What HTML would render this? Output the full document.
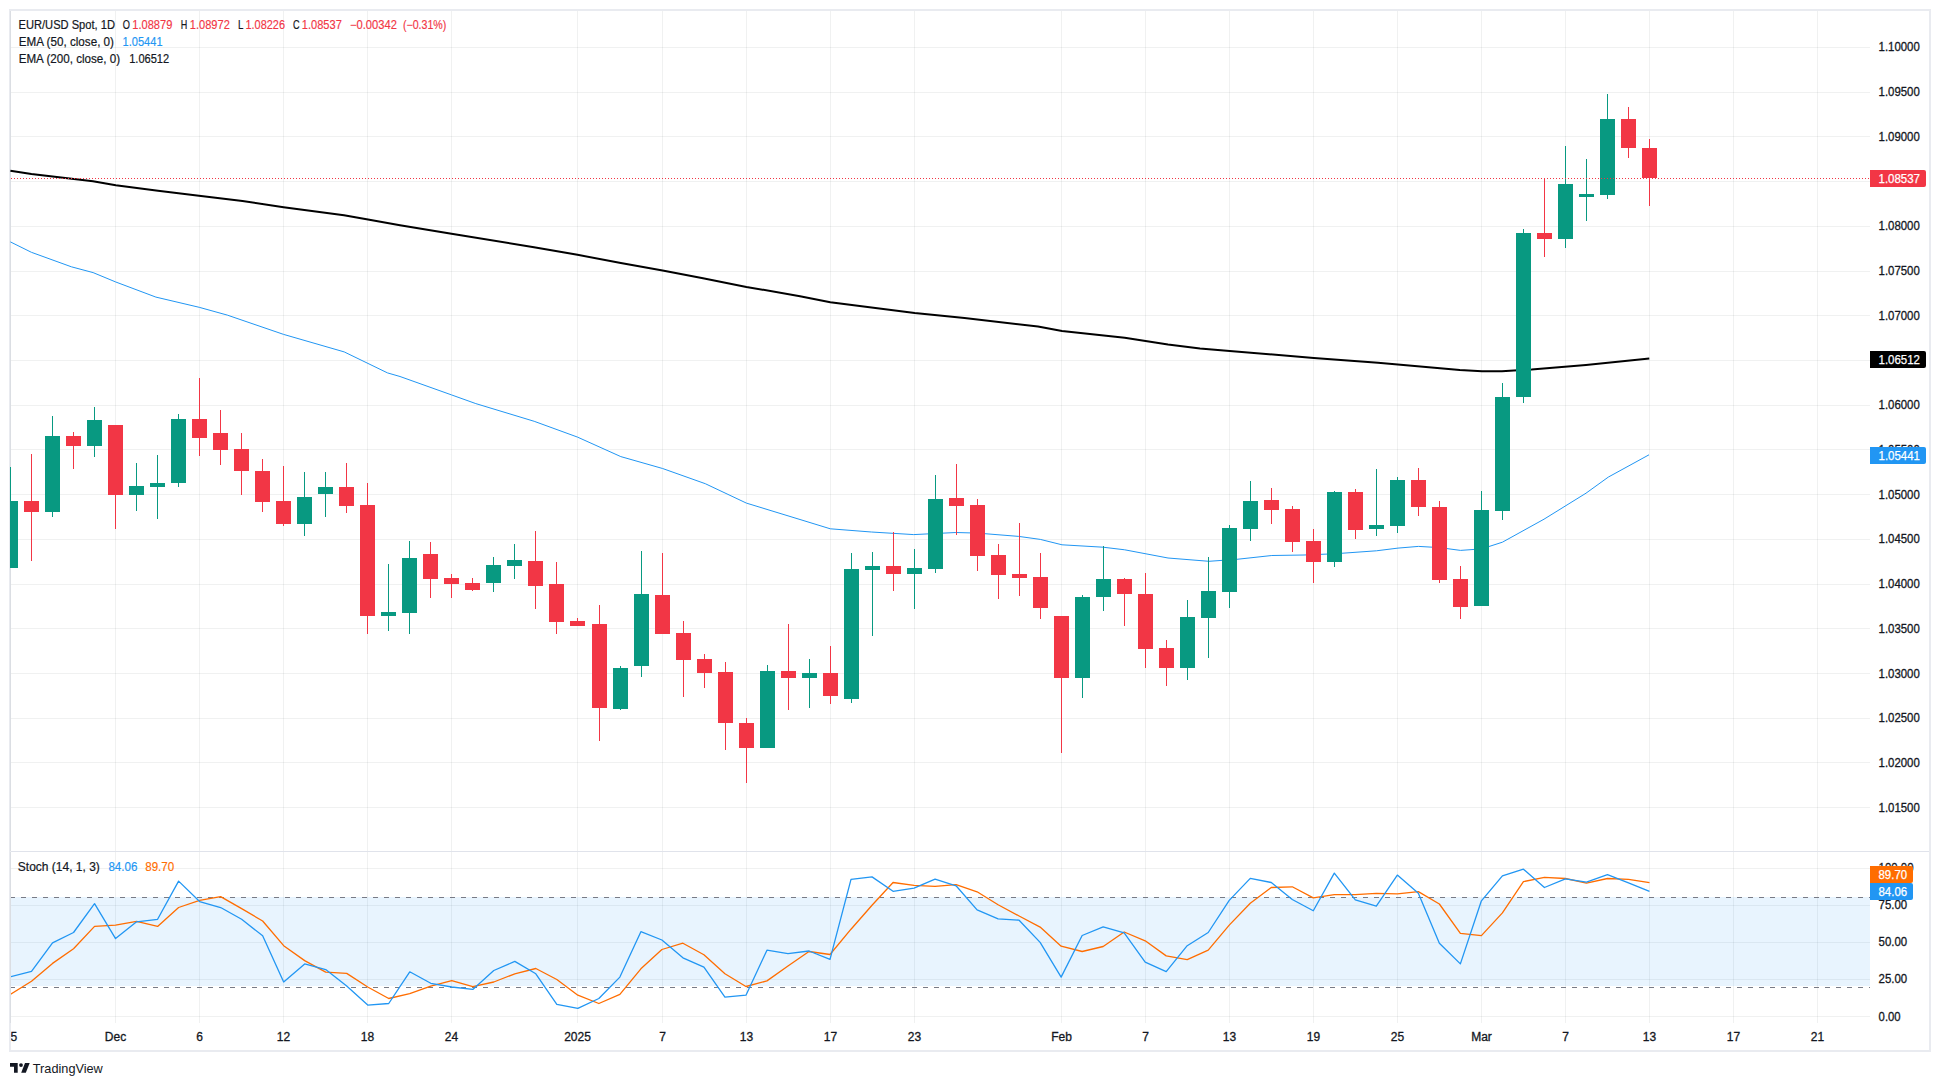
<!DOCTYPE html>
<html><head><meta charset="utf-8"><style>
html,body{margin:0;padding:0;background:#fff;width:1940px;height:1086px;overflow:hidden}
svg{display:block}
text{font-family:"Liberation Sans",sans-serif}
.b{stroke:#131722;stroke-width:0.3px}
.w{stroke:#ffffff;stroke-width:0.25px}
.l{stroke:#131722;stroke-width:0.2px}
</style></head><body>
<svg width="1940" height="1086" viewBox="0 0 1940 1086">
<rect x="0" y="0" width="1940" height="1086" fill="#ffffff"/>

<defs><clipPath id="cm"><rect x="10" y="11" width="1860" height="840"/></clipPath><clipPath id="cs"><rect x="11" y="852" width="1859" height="170"/></clipPath></defs>
<rect x="9" y="9" width="1922" height="2" fill="#e9ebf0"/><rect x="9" y="1050" width="1922" height="2" fill="#e9ebf0"/><rect x="9" y="9" width="2" height="1043" fill="#e9ebf0"/><rect x="1929" y="9" width="2" height="1043" fill="#e9ebf0"/>
<rect x="11" y="807" width="1859" height="1" fill="rgba(60,80,80,0.08)"/>
<rect x="11" y="762" width="1859" height="1" fill="rgba(60,80,80,0.08)"/>
<rect x="11" y="718" width="1859" height="1" fill="rgba(60,80,80,0.08)"/>
<rect x="11" y="673" width="1859" height="1" fill="rgba(60,80,80,0.08)"/>
<rect x="11" y="628" width="1859" height="1" fill="rgba(60,80,80,0.08)"/>
<rect x="11" y="584" width="1859" height="1" fill="rgba(60,80,80,0.08)"/>
<rect x="11" y="539" width="1859" height="1" fill="rgba(60,80,80,0.08)"/>
<rect x="11" y="494" width="1859" height="1" fill="rgba(60,80,80,0.08)"/>
<rect x="11" y="449" width="1859" height="1" fill="rgba(60,80,80,0.08)"/>
<rect x="11" y="405" width="1859" height="1" fill="rgba(60,80,80,0.08)"/>
<rect x="11" y="360" width="1859" height="1" fill="rgba(60,80,80,0.08)"/>
<rect x="11" y="315" width="1859" height="1" fill="rgba(60,80,80,0.08)"/>
<rect x="11" y="271" width="1859" height="1" fill="rgba(60,80,80,0.08)"/>
<rect x="11" y="226" width="1859" height="1" fill="rgba(60,80,80,0.08)"/>
<rect x="11" y="181" width="1859" height="1" fill="rgba(60,80,80,0.08)"/>
<rect x="11" y="136" width="1859" height="1" fill="rgba(60,80,80,0.08)"/>
<rect x="11" y="92" width="1859" height="1" fill="rgba(60,80,80,0.08)"/>
<rect x="11" y="47" width="1859" height="1" fill="rgba(60,80,80,0.08)"/>
<rect x="10" y="11" width="1" height="840" fill="rgba(60,80,80,0.08)"/>
<rect x="10" y="852" width="1" height="171" fill="rgba(60,80,80,0.08)"/>
<rect x="115" y="11" width="1" height="840" fill="rgba(60,80,80,0.08)"/>
<rect x="115" y="852" width="1" height="171" fill="rgba(60,80,80,0.08)"/>
<rect x="199" y="11" width="1" height="840" fill="rgba(60,80,80,0.08)"/>
<rect x="199" y="852" width="1" height="171" fill="rgba(60,80,80,0.08)"/>
<rect x="283" y="11" width="1" height="840" fill="rgba(60,80,80,0.08)"/>
<rect x="283" y="852" width="1" height="171" fill="rgba(60,80,80,0.08)"/>
<rect x="367" y="11" width="1" height="840" fill="rgba(60,80,80,0.08)"/>
<rect x="367" y="852" width="1" height="171" fill="rgba(60,80,80,0.08)"/>
<rect x="451" y="11" width="1" height="840" fill="rgba(60,80,80,0.08)"/>
<rect x="451" y="852" width="1" height="171" fill="rgba(60,80,80,0.08)"/>
<rect x="577" y="11" width="1" height="840" fill="rgba(60,80,80,0.08)"/>
<rect x="577" y="852" width="1" height="171" fill="rgba(60,80,80,0.08)"/>
<rect x="662" y="11" width="1" height="840" fill="rgba(60,80,80,0.08)"/>
<rect x="662" y="852" width="1" height="171" fill="rgba(60,80,80,0.08)"/>
<rect x="746" y="11" width="1" height="840" fill="rgba(60,80,80,0.08)"/>
<rect x="746" y="852" width="1" height="171" fill="rgba(60,80,80,0.08)"/>
<rect x="830" y="11" width="1" height="840" fill="rgba(60,80,80,0.08)"/>
<rect x="830" y="852" width="1" height="171" fill="rgba(60,80,80,0.08)"/>
<rect x="914" y="11" width="1" height="840" fill="rgba(60,80,80,0.08)"/>
<rect x="914" y="852" width="1" height="171" fill="rgba(60,80,80,0.08)"/>
<rect x="1061" y="11" width="1" height="840" fill="rgba(60,80,80,0.08)"/>
<rect x="1061" y="852" width="1" height="171" fill="rgba(60,80,80,0.08)"/>
<rect x="1145" y="11" width="1" height="840" fill="rgba(60,80,80,0.08)"/>
<rect x="1145" y="852" width="1" height="171" fill="rgba(60,80,80,0.08)"/>
<rect x="1229" y="11" width="1" height="840" fill="rgba(60,80,80,0.08)"/>
<rect x="1229" y="852" width="1" height="171" fill="rgba(60,80,80,0.08)"/>
<rect x="1313" y="11" width="1" height="840" fill="rgba(60,80,80,0.08)"/>
<rect x="1313" y="852" width="1" height="171" fill="rgba(60,80,80,0.08)"/>
<rect x="1397" y="11" width="1" height="840" fill="rgba(60,80,80,0.08)"/>
<rect x="1397" y="852" width="1" height="171" fill="rgba(60,80,80,0.08)"/>
<rect x="1481" y="11" width="1" height="840" fill="rgba(60,80,80,0.08)"/>
<rect x="1481" y="852" width="1" height="171" fill="rgba(60,80,80,0.08)"/>
<rect x="1565" y="11" width="1" height="840" fill="rgba(60,80,80,0.08)"/>
<rect x="1565" y="852" width="1" height="171" fill="rgba(60,80,80,0.08)"/>
<rect x="1649" y="11" width="1" height="840" fill="rgba(60,80,80,0.08)"/>
<rect x="1649" y="852" width="1" height="171" fill="rgba(60,80,80,0.08)"/>
<rect x="1733" y="11" width="1" height="840" fill="rgba(60,80,80,0.08)"/>
<rect x="1733" y="852" width="1" height="171" fill="rgba(60,80,80,0.08)"/>
<rect x="1817" y="11" width="1" height="840" fill="rgba(60,80,80,0.08)"/>
<rect x="1817" y="852" width="1" height="171" fill="rgba(60,80,80,0.08)"/>
<rect x="11" y="868" width="1859" height="1" fill="rgba(60,80,80,0.08)"/>
<rect x="11" y="905" width="1859" height="1" fill="rgba(60,80,80,0.08)"/>
<rect x="11" y="942" width="1859" height="1" fill="rgba(60,80,80,0.08)"/>
<rect x="11" y="979" width="1859" height="1" fill="rgba(60,80,80,0.08)"/>
<rect x="11" y="1016" width="1859" height="1" fill="rgba(60,80,80,0.08)"/>
<rect x="11" y="897" width="1859" height="89" fill="rgba(33,150,243,0.1)"/>
<g clip-path="url(#cm)">
<polyline fill="none" stroke="#2196F3" stroke-width="1" stroke-linejoin="round" points="10.4,241.9 31.4,252.3 71.4,266.8 93.1,272.6 115.8,282 155.9,297.1 199.2,307.3 227.3,315.1 283.6,334.4 344.2,351.9 387.5,372.9 400,376.5 451.5,394.9 475.8,403.6 534.2,421.3 577.5,437.1 620.8,456.6 662.6,468.5 705.3,483.7 746.4,503.1 800,519.5 830.3,528.8 871.4,532 913.7,534.6 955.9,532.5 977.5,533.1 1018.7,536.4 1040.3,539.4 1062,544.8 1103,547.2 1124.7,549.8 1168,558 1209,561.3 1237,559.3 1271.8,555.5 1304,555 1334.3,553.8 1376.4,550.8 1398,548.1 1418.5,546.4 1439.5,547.6 1460.5,550.4 1481.6,548.9 1502.4,542.2 1544,519.2 1586,493.2 1608.3,477.1 1649,454.8"/>
<polyline fill="none" stroke="#000000" stroke-width="2" stroke-linejoin="round" points="10.4,170.8 31.4,174.1 93,181.2 115.8,185.3 158,190.7 199,195.7 242.5,201.1 283.6,207.2 344,215.2 368,219.5 400,225.2 451.5,233.8 534,247.2 577.5,254.8 620.8,263 662.6,270.6 703,278.2 746.4,286.9 800,296.2 830.3,302.3 914.7,312.9 964.5,317.9 1038,326.5 1062,330.9 1124.7,337.8 1168,344.5 1200,348.5 1229.7,350.9 1313.8,357.9 1378,362.8 1459.8,370 1482,371.2 1501.9,371.2 1531.5,369.5 1586,365 1649.3,358.6"/>
<rect x="10" y="467" width="1" height="101" fill="#089981"/>
<rect x="3" y="501" width="15" height="67" fill="#089981"/>
<rect x="31" y="454" width="1" height="107" fill="#F23645"/>
<rect x="24" y="501" width="15" height="11" fill="#F23645"/>
<rect x="52" y="416" width="1" height="101" fill="#089981"/>
<rect x="45" y="436" width="15" height="76" fill="#089981"/>
<rect x="73" y="432" width="1" height="37" fill="#F23645"/>
<rect x="66" y="436" width="15" height="10" fill="#F23645"/>
<rect x="94" y="407" width="1" height="50" fill="#089981"/>
<rect x="87" y="420" width="15" height="26" fill="#089981"/>
<rect x="115" y="425" width="1" height="104" fill="#F23645"/>
<rect x="108" y="425" width="15" height="70" fill="#F23645"/>
<rect x="136" y="463" width="1" height="48" fill="#089981"/>
<rect x="129" y="486" width="15" height="9" fill="#089981"/>
<rect x="157" y="455" width="1" height="64" fill="#089981"/>
<rect x="150" y="483" width="15" height="4" fill="#089981"/>
<rect x="178" y="414" width="1" height="73" fill="#089981"/>
<rect x="171" y="419" width="15" height="64" fill="#089981"/>
<rect x="199" y="378" width="1" height="78" fill="#F23645"/>
<rect x="192" y="419" width="15" height="19" fill="#F23645"/>
<rect x="220" y="410" width="1" height="55" fill="#F23645"/>
<rect x="213" y="433" width="15" height="17" fill="#F23645"/>
<rect x="241" y="433" width="1" height="62" fill="#F23645"/>
<rect x="234" y="449" width="15" height="22" fill="#F23645"/>
<rect x="262" y="459" width="1" height="53" fill="#F23645"/>
<rect x="255" y="471" width="15" height="31" fill="#F23645"/>
<rect x="283" y="466" width="1" height="60" fill="#F23645"/>
<rect x="276" y="501" width="15" height="23" fill="#F23645"/>
<rect x="304" y="472" width="1" height="64" fill="#089981"/>
<rect x="297" y="497" width="15" height="27" fill="#089981"/>
<rect x="325" y="472" width="1" height="45" fill="#089981"/>
<rect x="318" y="487" width="15" height="7" fill="#089981"/>
<rect x="346" y="463" width="1" height="50" fill="#F23645"/>
<rect x="339" y="487" width="15" height="19" fill="#F23645"/>
<rect x="367" y="483" width="1" height="151" fill="#F23645"/>
<rect x="360" y="505" width="15" height="111" fill="#F23645"/>
<rect x="388" y="564" width="1" height="67" fill="#089981"/>
<rect x="381" y="612" width="15" height="4" fill="#089981"/>
<rect x="409" y="541" width="1" height="93" fill="#089981"/>
<rect x="402" y="558" width="15" height="55" fill="#089981"/>
<rect x="430" y="542" width="1" height="56" fill="#F23645"/>
<rect x="423" y="554" width="15" height="25" fill="#F23645"/>
<rect x="451" y="574" width="1" height="24" fill="#F23645"/>
<rect x="444" y="578" width="15" height="6" fill="#F23645"/>
<rect x="472" y="578" width="1" height="13" fill="#F23645"/>
<rect x="465" y="583" width="15" height="7" fill="#F23645"/>
<rect x="493" y="557" width="1" height="35" fill="#089981"/>
<rect x="486" y="565" width="15" height="18" fill="#089981"/>
<rect x="514" y="544" width="1" height="35" fill="#089981"/>
<rect x="507" y="560" width="15" height="6" fill="#089981"/>
<rect x="535" y="531" width="1" height="78" fill="#F23645"/>
<rect x="528" y="561" width="15" height="25" fill="#F23645"/>
<rect x="556" y="562" width="1" height="72" fill="#F23645"/>
<rect x="549" y="584" width="15" height="38" fill="#F23645"/>
<rect x="577" y="618" width="1" height="8" fill="#F23645"/>
<rect x="570" y="621" width="15" height="5" fill="#F23645"/>
<rect x="599" y="605" width="1" height="136" fill="#F23645"/>
<rect x="592" y="624" width="15" height="84" fill="#F23645"/>
<rect x="620" y="666" width="1" height="44" fill="#089981"/>
<rect x="613" y="668" width="15" height="41" fill="#089981"/>
<rect x="641" y="551" width="1" height="126" fill="#089981"/>
<rect x="634" y="594" width="15" height="72" fill="#089981"/>
<rect x="662" y="553" width="1" height="81" fill="#F23645"/>
<rect x="655" y="595" width="15" height="39" fill="#F23645"/>
<rect x="683" y="621" width="1" height="76" fill="#F23645"/>
<rect x="676" y="633" width="15" height="27" fill="#F23645"/>
<rect x="704" y="654" width="1" height="34" fill="#F23645"/>
<rect x="697" y="659" width="15" height="14" fill="#F23645"/>
<rect x="725" y="662" width="1" height="88" fill="#F23645"/>
<rect x="718" y="672" width="15" height="51" fill="#F23645"/>
<rect x="746" y="718" width="1" height="65" fill="#F23645"/>
<rect x="739" y="723" width="15" height="25" fill="#F23645"/>
<rect x="767" y="665" width="1" height="83" fill="#089981"/>
<rect x="760" y="671" width="15" height="77" fill="#089981"/>
<rect x="788" y="624" width="1" height="86" fill="#F23645"/>
<rect x="781" y="671" width="15" height="7" fill="#F23645"/>
<rect x="809" y="659" width="1" height="49" fill="#089981"/>
<rect x="802" y="673" width="15" height="5" fill="#089981"/>
<rect x="830" y="646" width="1" height="58" fill="#F23645"/>
<rect x="823" y="673" width="15" height="23" fill="#F23645"/>
<rect x="851" y="553" width="1" height="150" fill="#089981"/>
<rect x="844" y="569" width="15" height="130" fill="#089981"/>
<rect x="872" y="552" width="1" height="84" fill="#089981"/>
<rect x="865" y="566" width="15" height="4" fill="#089981"/>
<rect x="893" y="532" width="1" height="59" fill="#F23645"/>
<rect x="886" y="566" width="15" height="8" fill="#F23645"/>
<rect x="914" y="549" width="1" height="60" fill="#089981"/>
<rect x="907" y="568" width="15" height="6" fill="#089981"/>
<rect x="935" y="475" width="1" height="98" fill="#089981"/>
<rect x="928" y="499" width="15" height="70" fill="#089981"/>
<rect x="956" y="464" width="1" height="71" fill="#F23645"/>
<rect x="949" y="498" width="15" height="8" fill="#F23645"/>
<rect x="977" y="499" width="1" height="72" fill="#F23645"/>
<rect x="970" y="505" width="15" height="51" fill="#F23645"/>
<rect x="998" y="544" width="1" height="55" fill="#F23645"/>
<rect x="991" y="555" width="15" height="20" fill="#F23645"/>
<rect x="1019" y="523" width="1" height="73" fill="#F23645"/>
<rect x="1012" y="574" width="15" height="4" fill="#F23645"/>
<rect x="1040" y="553" width="1" height="66" fill="#F23645"/>
<rect x="1033" y="577" width="15" height="31" fill="#F23645"/>
<rect x="1061" y="616" width="1" height="137" fill="#F23645"/>
<rect x="1054" y="616" width="15" height="62" fill="#F23645"/>
<rect x="1082" y="595" width="1" height="103" fill="#089981"/>
<rect x="1075" y="597" width="15" height="81" fill="#089981"/>
<rect x="1103" y="546" width="1" height="65" fill="#089981"/>
<rect x="1096" y="579" width="15" height="18" fill="#089981"/>
<rect x="1124" y="578" width="1" height="48" fill="#F23645"/>
<rect x="1117" y="579" width="15" height="15" fill="#F23645"/>
<rect x="1145" y="573" width="1" height="95" fill="#F23645"/>
<rect x="1138" y="594" width="15" height="55" fill="#F23645"/>
<rect x="1166" y="640" width="1" height="46" fill="#F23645"/>
<rect x="1159" y="648" width="15" height="20" fill="#F23645"/>
<rect x="1187" y="600" width="1" height="80" fill="#089981"/>
<rect x="1180" y="617" width="15" height="51" fill="#089981"/>
<rect x="1208" y="557" width="1" height="101" fill="#089981"/>
<rect x="1201" y="591" width="15" height="27" fill="#089981"/>
<rect x="1229" y="525" width="1" height="83" fill="#089981"/>
<rect x="1222" y="528" width="15" height="64" fill="#089981"/>
<rect x="1250" y="481" width="1" height="60" fill="#089981"/>
<rect x="1243" y="501" width="15" height="28" fill="#089981"/>
<rect x="1271" y="488" width="1" height="36" fill="#F23645"/>
<rect x="1264" y="500" width="15" height="10" fill="#F23645"/>
<rect x="1292" y="506" width="1" height="46" fill="#F23645"/>
<rect x="1285" y="509" width="15" height="33" fill="#F23645"/>
<rect x="1313" y="529" width="1" height="54" fill="#F23645"/>
<rect x="1306" y="541" width="15" height="21" fill="#F23645"/>
<rect x="1334" y="491" width="1" height="76" fill="#089981"/>
<rect x="1327" y="492" width="15" height="70" fill="#089981"/>
<rect x="1355" y="489" width="1" height="50" fill="#F23645"/>
<rect x="1348" y="492" width="15" height="38" fill="#F23645"/>
<rect x="1376" y="469" width="1" height="67" fill="#089981"/>
<rect x="1369" y="525" width="15" height="4" fill="#089981"/>
<rect x="1397" y="477" width="1" height="56" fill="#089981"/>
<rect x="1390" y="480" width="15" height="46" fill="#089981"/>
<rect x="1418" y="468" width="1" height="48" fill="#F23645"/>
<rect x="1411" y="480" width="15" height="27" fill="#F23645"/>
<rect x="1439" y="501" width="1" height="82" fill="#F23645"/>
<rect x="1432" y="507" width="15" height="73" fill="#F23645"/>
<rect x="1460" y="566" width="1" height="53" fill="#F23645"/>
<rect x="1453" y="579" width="15" height="28" fill="#F23645"/>
<rect x="1481" y="491" width="1" height="115" fill="#089981"/>
<rect x="1474" y="510" width="15" height="96" fill="#089981"/>
<rect x="1502" y="383" width="1" height="137" fill="#089981"/>
<rect x="1495" y="397" width="15" height="114" fill="#089981"/>
<rect x="1523" y="229" width="1" height="174" fill="#089981"/>
<rect x="1516" y="233" width="15" height="164" fill="#089981"/>
<rect x="1544" y="178" width="1" height="79" fill="#F23645"/>
<rect x="1537" y="233" width="15" height="6" fill="#F23645"/>
<rect x="1565" y="146" width="1" height="102" fill="#089981"/>
<rect x="1558" y="184" width="15" height="55" fill="#089981"/>
<rect x="1586" y="159" width="1" height="62" fill="#089981"/>
<rect x="1579" y="194" width="15" height="3" fill="#089981"/>
<rect x="1607" y="94" width="1" height="105" fill="#089981"/>
<rect x="1600" y="119" width="15" height="76" fill="#089981"/>
<rect x="1628" y="107" width="1" height="51" fill="#F23645"/>
<rect x="1621" y="119" width="15" height="29" fill="#F23645"/>
<rect x="1649" y="139" width="1" height="67" fill="#F23645"/>
<rect x="1642" y="148" width="15" height="30" fill="#F23645"/>
<line x1="11" y1="178.5" x2="1870" y2="178.5" stroke="#F23645" stroke-width="1" stroke-dasharray="1 2"/>
</g>
<g clip-path="url(#cs)">
<line x1="11" y1="897.5" x2="1870" y2="897.5" stroke="#787B86" stroke-width="1" stroke-dasharray="5 6" stroke-dashoffset="1"/>
<line x1="11" y1="987.5" x2="1870" y2="987.5" stroke="#787B86" stroke-width="1" stroke-dasharray="5 6" stroke-dashoffset="1"/>
<polyline fill="none" stroke="#FF6D00" stroke-width="1.3" stroke-linejoin="round" points="10.50,994.4 31.51,981.2 52.53,963.4 73.54,948.7 94.55,926.4 115.56,925.1 136.58,921.3 157.59,926.4 178.60,907.5 199.62,900.4 220.63,896.6 241.64,908.6 262.65,921 283.67,945.7 304.68,960.6 325.69,972.1 346.70,973.4 367.72,987 388.73,998.5 409.74,993.6 430.76,986.1 451.77,980.7 472.78,986.6 493.79,982 514.81,973.8 535.82,968.5 556.83,979.5 577.85,995.2 598.86,1003.5 619.87,994.4 640.88,968.8 661.90,949.5 682.91,943.2 703.92,954.8 724.94,973.8 745.95,986.5 766.96,980.9 787.97,966 808.99,951.5 830.00,954.5 851.01,929.2 872.02,905.3 893.04,882.5 914.05,885.3 935.06,886.3 956.08,884.7 977.09,891.8 998.10,904.8 1019.11,916 1040.13,927.1 1061.14,946.2 1082.15,951.5 1103.17,946.5 1124.18,932 1145.19,940.8 1166.20,955.9 1187.22,959.7 1208.23,950.2 1229.24,925.1 1250.26,903.3 1271.27,887.5 1292.28,886.8 1313.29,897.9 1334.31,894.6 1355.32,894.6 1376.33,893.4 1397.34,893.9 1418.36,891.6 1439.37,904 1460.38,933.4 1481.40,935.6 1502.41,912.9 1523.42,881.6 1544.43,877.3 1565.45,878.5 1586.46,883.1 1607.47,878.5 1628.49,879.4 1649.50,882.6"/>
<polyline fill="none" stroke="#2196F3" stroke-width="1.3" stroke-linejoin="round" points="10.50,976.7 31.51,971.3 52.53,942.9 73.54,932.5 94.55,903.7 115.56,938.6 136.58,921.8 157.59,919.3 178.60,881.1 199.62,901.5 220.63,907.5 241.64,919.3 262.65,935.8 283.67,982 304.68,963.9 325.69,969.6 346.70,986.1 367.72,1005.1 388.73,1003.5 409.74,971.8 430.76,983.3 451.77,987 472.78,989.4 493.79,970.5 514.81,961.4 535.82,973.8 556.83,1004.3 577.85,1008.4 598.86,998.5 619.87,977.1 640.88,931.7 661.90,940 682.91,957.8 703.92,967.2 724.94,997.2 745.95,995.2 766.96,950.2 787.97,953.6 808.99,951 830.00,959.4 851.01,879.4 872.02,876.9 893.04,891.3 914.05,888.1 935.06,879.2 956.08,885.8 977.09,909.9 998.10,918.8 1019.11,920.2 1040.13,942.4 1061.14,977.1 1082.15,935.5 1103.17,926.8 1124.18,932.9 1145.19,962.2 1166.20,971.6 1187.22,945.7 1208.23,932.5 1229.24,900.4 1250.26,878.4 1271.27,882.5 1292.28,899.5 1313.29,910.8 1334.31,873.1 1355.32,899.9 1376.33,906.1 1397.34,875.1 1418.36,893.3 1439.37,943.2 1460.38,963.9 1481.40,900.8 1502.41,875.8 1523.42,869.2 1544.43,887.5 1565.45,878.8 1586.46,882.2 1607.47,874.6 1628.49,882.8 1649.50,891.3"/>
</g>
<rect x="11" y="851" width="1918" height="1" fill="#e0e3eb"/>
<text x="1878.6" y="812" font-size="12" fill="#131722" textLength="41.2" lengthAdjust="spacingAndGlyphs" class="b">1.01500</text>
<text x="1878.6" y="767" font-size="12" fill="#131722" textLength="41.2" lengthAdjust="spacingAndGlyphs" class="b">1.02000</text>
<text x="1878.6" y="722" font-size="12" fill="#131722" textLength="41.2" lengthAdjust="spacingAndGlyphs" class="b">1.02500</text>
<text x="1878.6" y="678" font-size="12" fill="#131722" textLength="41.2" lengthAdjust="spacingAndGlyphs" class="b">1.03000</text>
<text x="1878.6" y="633" font-size="12" fill="#131722" textLength="41.2" lengthAdjust="spacingAndGlyphs" class="b">1.03500</text>
<text x="1878.6" y="588" font-size="12" fill="#131722" textLength="41.2" lengthAdjust="spacingAndGlyphs" class="b">1.04000</text>
<text x="1878.6" y="543" font-size="12" fill="#131722" textLength="41.2" lengthAdjust="spacingAndGlyphs" class="b">1.04500</text>
<text x="1878.6" y="499" font-size="12" fill="#131722" textLength="41.2" lengthAdjust="spacingAndGlyphs" class="b">1.05000</text>
<text x="1878.6" y="454" font-size="12" fill="#131722" textLength="41.2" lengthAdjust="spacingAndGlyphs" class="b">1.05500</text>
<text x="1878.6" y="409" font-size="12" fill="#131722" textLength="41.2" lengthAdjust="spacingAndGlyphs" class="b">1.06000</text>
<text x="1878.6" y="364" font-size="12" fill="#131722" textLength="41.2" lengthAdjust="spacingAndGlyphs" class="b">1.06500</text>
<text x="1878.6" y="320" font-size="12" fill="#131722" textLength="41.2" lengthAdjust="spacingAndGlyphs" class="b">1.07000</text>
<text x="1878.6" y="275" font-size="12" fill="#131722" textLength="41.2" lengthAdjust="spacingAndGlyphs" class="b">1.07500</text>
<text x="1878.6" y="230" font-size="12" fill="#131722" textLength="41.2" lengthAdjust="spacingAndGlyphs" class="b">1.08000</text>
<text x="1878.6" y="186" font-size="12" fill="#131722" textLength="41.2" lengthAdjust="spacingAndGlyphs" class="b">1.08500</text>
<text x="1878.6" y="141" font-size="12" fill="#131722" textLength="41.2" lengthAdjust="spacingAndGlyphs" class="b">1.09000</text>
<text x="1878.6" y="96" font-size="12" fill="#131722" textLength="41.2" lengthAdjust="spacingAndGlyphs" class="b">1.09500</text>
<text x="1878.6" y="51" font-size="12" fill="#131722" textLength="41.2" lengthAdjust="spacingAndGlyphs" class="b">1.10000</text>
<text x="1878.6" y="872" font-size="12" fill="#131722" textLength="35" lengthAdjust="spacingAndGlyphs" class="b">100.00</text>
<text x="1878.6" y="909" font-size="12" fill="#131722" textLength="28.6" lengthAdjust="spacingAndGlyphs" class="b">75.00</text>
<text x="1878.6" y="946" font-size="12" fill="#131722" textLength="28.6" lengthAdjust="spacingAndGlyphs" class="b">50.00</text>
<text x="1878.6" y="983" font-size="12" fill="#131722" textLength="28.6" lengthAdjust="spacingAndGlyphs" class="b">25.00</text>
<text x="1878.6" y="1021" font-size="12" fill="#131722" textLength="22" lengthAdjust="spacingAndGlyphs" class="b">0.00</text>
<path d="M1870 170 H1924 a2 2 0 0 1 2 2 V185 a2 2 0 0 1 -2 2 H1870 Z" fill="#F23645"/><text x="1878.5" y="182.9" font-size="12" fill="#ffffff" textLength="41.5" lengthAdjust="spacingAndGlyphs" class="w">1.08537</text>
<path d="M1870 351 H1924 a2 2 0 0 1 2 2 V366 a2 2 0 0 1 -2 2 H1870 Z" fill="#000000"/><text x="1878.5" y="363.9" font-size="12" fill="#ffffff" textLength="41.5" lengthAdjust="spacingAndGlyphs" class="w">1.06512</text>
<path d="M1870 447 H1924 a2 2 0 0 1 2 2 V462 a2 2 0 0 1 -2 2 H1870 Z" fill="#2196F3"/><text x="1878.5" y="459.9" font-size="12" fill="#ffffff" textLength="41.5" lengthAdjust="spacingAndGlyphs" class="w">1.05441</text>
<path d="M1870 866 H1911 a2 2 0 0 1 2 2 V881 a2 2 0 0 1 -2 2 H1870 Z" fill="#FF6D00"/><text x="1878.5" y="878.9" font-size="12" fill="#ffffff" textLength="28.6" lengthAdjust="spacingAndGlyphs" class="w">89.70</text>
<path d="M1870 883 H1911 a2 2 0 0 1 2 2 V898 a2 2 0 0 1 -2 2 H1870 Z" fill="#2196F3"/><text x="1878.5" y="895.9" font-size="12" fill="#ffffff" textLength="28.6" lengthAdjust="spacingAndGlyphs" class="w">84.06</text>
<g clip-path="url(#ct)"><text x="10.5" y="1041" font-size="12" fill="#131722" text-anchor="middle" class="b">25</text>
<text x="115.5" y="1041" font-size="12" fill="#131722" text-anchor="middle" class="b">Dec</text>
<text x="199.5" y="1041" font-size="12" fill="#131722" text-anchor="middle" class="b">6</text>
<text x="283.5" y="1041" font-size="12" fill="#131722" text-anchor="middle" class="b">12</text>
<text x="367.5" y="1041" font-size="12" fill="#131722" text-anchor="middle" class="b">18</text>
<text x="451.5" y="1041" font-size="12" fill="#131722" text-anchor="middle" class="b">24</text>
<text x="577.5" y="1041" font-size="12" fill="#131722" text-anchor="middle" class="b">2025</text>
<text x="662.5" y="1041" font-size="12" fill="#131722" text-anchor="middle" class="b">7</text>
<text x="746.5" y="1041" font-size="12" fill="#131722" text-anchor="middle" class="b">13</text>
<text x="830.5" y="1041" font-size="12" fill="#131722" text-anchor="middle" class="b">17</text>
<text x="914.5" y="1041" font-size="12" fill="#131722" text-anchor="middle" class="b">23</text>
<text x="1061.5" y="1041" font-size="12" fill="#131722" text-anchor="middle" class="b">Feb</text>
<text x="1145.5" y="1041" font-size="12" fill="#131722" text-anchor="middle" class="b">7</text>
<text x="1229.5" y="1041" font-size="12" fill="#131722" text-anchor="middle" class="b">13</text>
<text x="1313.5" y="1041" font-size="12" fill="#131722" text-anchor="middle" class="b">19</text>
<text x="1397.5" y="1041" font-size="12" fill="#131722" text-anchor="middle" class="b">25</text>
<text x="1481.5" y="1041" font-size="12" fill="#131722" text-anchor="middle" class="b">Mar</text>
<text x="1565.5" y="1041" font-size="12" fill="#131722" text-anchor="middle" class="b">7</text>
<text x="1649.5" y="1041" font-size="12" fill="#131722" text-anchor="middle" class="b">13</text>
<text x="1733.5" y="1041" font-size="12" fill="#131722" text-anchor="middle" class="b">17</text>
<text x="1817.5" y="1041" font-size="12" fill="#131722" text-anchor="middle" class="b">21</text></g>
<defs><clipPath id="ct"><rect x="11" y="1022" width="1859" height="28"/></clipPath></defs>
<text x="18.5" y="28.9" font-size="12" fill="#131722" textLength="96.5" lengthAdjust="spacingAndGlyphs" class="l">EUR/USD Spot, 1D</text>
<text x="122.8" y="28.9" font-size="12" fill="#131722" textLength="7.2" lengthAdjust="spacingAndGlyphs" class="l">O</text>
<text x="132.3" y="28.9" font-size="12" fill="#F23645" textLength="40" lengthAdjust="spacingAndGlyphs" style="stroke:#F23645;stroke-width:0.15px">1.08879</text>
<text x="180.7" y="28.9" font-size="12" fill="#131722" textLength="6.5" lengthAdjust="spacingAndGlyphs" class="l">H</text>
<text x="189.8" y="28.9" font-size="12" fill="#F23645" textLength="40" lengthAdjust="spacingAndGlyphs" style="stroke:#F23645;stroke-width:0.15px">1.08972</text>
<text x="237.9" y="28.9" font-size="12" fill="#131722" textLength="5.4" lengthAdjust="spacingAndGlyphs" class="l">L</text>
<text x="245.5" y="28.9" font-size="12" fill="#F23645" textLength="39.5" lengthAdjust="spacingAndGlyphs" style="stroke:#F23645;stroke-width:0.15px">1.08226</text>
<text x="293" y="28.9" font-size="12" fill="#131722" textLength="6.6" lengthAdjust="spacingAndGlyphs" class="l">C</text>
<text x="301.8" y="28.9" font-size="12" fill="#F23645" textLength="40" lengthAdjust="spacingAndGlyphs" style="stroke:#F23645;stroke-width:0.15px">1.08537</text>
<text x="350" y="28.9" font-size="12" fill="#F23645" textLength="47" lengthAdjust="spacingAndGlyphs" style="stroke:#F23645;stroke-width:0.15px">−0.00342</text>
<text x="402.9" y="28.9" font-size="12" fill="#F23645" textLength="43.5" lengthAdjust="spacingAndGlyphs" style="stroke:#F23645;stroke-width:0.15px">(−0.31%)</text>
<text x="18.7" y="45.8" font-size="12" fill="#131722" textLength="95.3" lengthAdjust="spacingAndGlyphs" class="l">EMA (50, close, 0)</text>
<text x="122.6" y="45.8" font-size="12" fill="#2196F3" textLength="40" lengthAdjust="spacingAndGlyphs" style="stroke:#2196F3;stroke-width:0.15px">1.05441</text>
<text x="18.7" y="62.5" font-size="12" fill="#131722" textLength="101.4" lengthAdjust="spacingAndGlyphs" class="l">EMA (200, close, 0)</text>
<text x="129.2" y="62.5" font-size="12" fill="#131722" textLength="40" lengthAdjust="spacingAndGlyphs" class="l">1.06512</text>
<text x="17.8" y="871" font-size="12" fill="#131722" textLength="82" lengthAdjust="spacingAndGlyphs" class="l">Stoch (14, 1, 3)</text>
<text x="108.4" y="871" font-size="12" fill="#2196F3" textLength="29" lengthAdjust="spacingAndGlyphs" style="stroke:#2196F3;stroke-width:0.15px">84.06</text>
<text x="145.2" y="871" font-size="12" fill="#FF6D00" textLength="29" lengthAdjust="spacingAndGlyphs" style="stroke:#FF6D00;stroke-width:0.15px">89.70</text>
<g fill="#131722"><path d="M10 1063 H17.7 V1072.7 H14 V1066.7 H10 Z"/><circle cx="21" cy="1065.1" r="1.9"/><path d="M25 1063 H29.7 L25.8 1072.7 H21.2 Z"/></g>
<text x="32.8" y="1072.8" font-size="13" fill="#131722" textLength="70" lengthAdjust="spacingAndGlyphs">TradingView</text>
</svg></body></html>
